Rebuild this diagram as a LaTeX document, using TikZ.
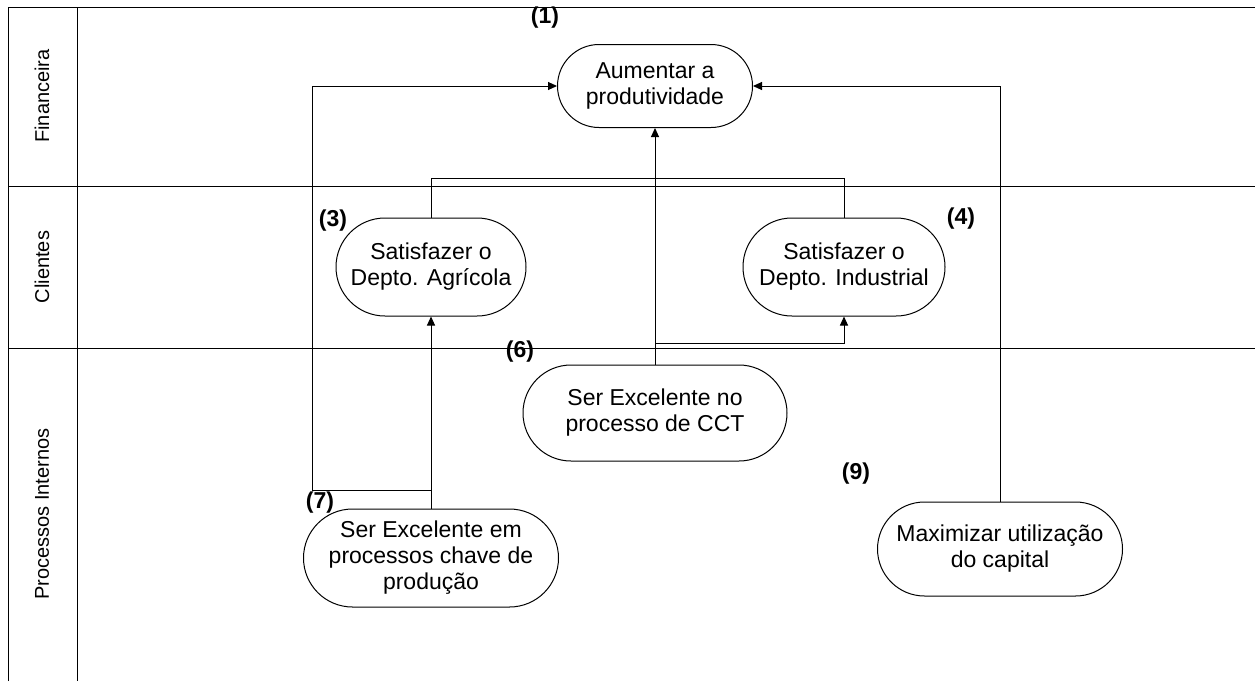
\documentclass[tikz,border=0pt]{standalone}
\usepackage{fontspec}
\setmainfont{Liberation Sans}
\usetikzlibrary{arrows.meta, shapes.misc}

\begin{document}
\begin{tikzpicture}[x=1pt, y=-1pt, line width=1pt,
    goal/.style={draw, rounded rectangle, align=center, inner sep=0pt,
      font=\fontsize{23}{26}\selectfont},
    tag/.style={font=\fontsize{23}{26}\selectfont\bfseries},
    lane/.style={rotate=90, font=\fontsize{20}{24}\selectfont},
    flow/.style={-{Triangle[length=9pt, width=8pt]}}]
                \useasboundingbox (0,0) rectangle (1255,681);

                % raias
                \draw (8,681) -- (8,7) -- (1255,7);
                \draw (77,7) -- (77,681);
                \draw (8,186) -- (1255,186);
                \draw (8,348) -- (1255,348);
                \node[lane] (fin) at (42,96) {Financeira};
                \node[lane] (cli) at (42,267) {Clientes};
                \node[lane] (pro) at (42,514) {Processos Internos};

                % objetivos
                \node[goal, minimum width=195pt, minimum height=83pt] (N1) at (655,86) {Aumentar a\\produtividade};
                \node[goal, minimum width=190pt, minimum height=98pt] (N3) at (431,267) {Satisfazer o\\Depto. Agrícola};
                \node[goal, minimum width=202pt, minimum height=98pt] (N4) at (844,267) {Satisfazer o\\Depto. Industrial};
                \node[goal, minimum width=264pt, minimum height=96pt] (N6) at (655,413) {Ser Excelente no\\processo de CCT};
                \node[goal, minimum width=255pt, minimum height=98pt] (N7) at (431,558) {Ser Excelente em\\processos chave de\\produção};
                \node[goal, minimum width=245pt, minimum height=94pt] (N9) at (1000,549) {Maximizar utilização\\do capital};

                % numeros
                \node[tag] (t1) at (545,18) {(1)};
                \node[tag] (t3) at (333,221) {(3)};
                \node[tag] (t4) at (961,219) {(4)};
                \node[tag] (t6) at (520,352) {(6)};
                \node[tag] (t7) at (320,503) {(7)};
                \node[tag] (t9) at (856,474) {(9)};

                % ligacoes
                \coordinate (kT) at (655,178);
                \coordinate (kR) at (655,343);
                \coordinate (kL) at (312,490);
                \draw (N3.north) |- (kT);
                \draw (N4.north) |- (kT);
                \draw[flow] (N6.north) -- (N1.south);
                \draw[flow] (N6.north) -- (kR) -| (N4.south);
                \draw[flow] (N7.north) -- (N3.south);
                \draw[flow] (N7.north) |- (kL) |- (N1.west);
                \draw[flow] (N9.north) |- (N1.east);
            \end{tikzpicture}
\end{document}
